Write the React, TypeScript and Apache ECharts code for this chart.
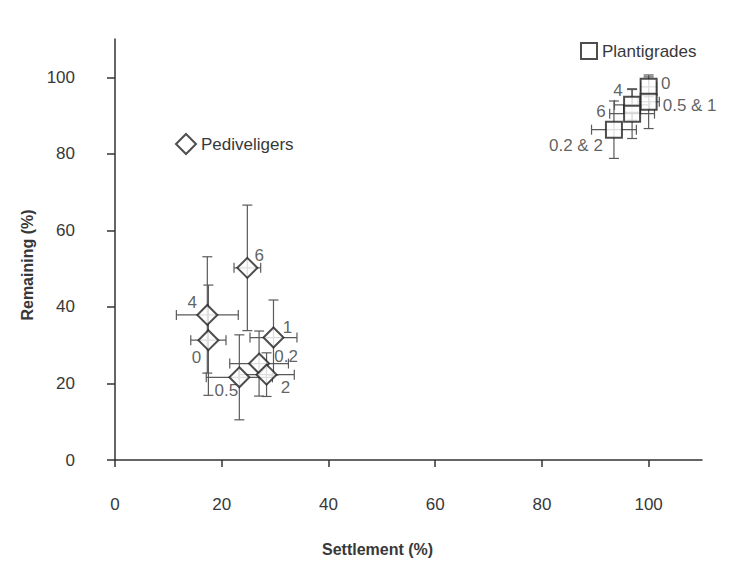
import React, { useEffect, useRef } from "react";
import * as echarts from "echarts";

// Pediveligers: settlement vs remaining, with ± error on both axes
const pediLabels = ["0", "0.2", "0.5", "1", "2", "4", "6"];
const pediX = [17.5, 27.0, 23.3, 29.7, 28.4, 17.3, 24.8];
const pediY = [31.3, 25.2, 21.6, 32.0, 22.3, 37.9, 50.2];
const pediXErr = [3.3, 5.5, 6.2, 4.4, 5.2, 5.8, 2.5];
const pediYErr = [14.4, 8.5, 11.1, 9.8, 5.7, 15.2, 16.4];

// Plantigrades
const plantLabels = ["0", "0.5 & 1", "4", "6", "0.2 & 2"];
const plantX = [100.0, 100.0, 96.9, 96.9, 93.5];
const plantY = [97.5, 93.6, 92.8, 90.5, 86.3];
const plantXErr = [1.5, 2.0, 3.3, 4.2, 4.2];
const plantYErr = [2.6, 7.0, 4.0, 6.5, 7.5];

const xTicks = [0, 20, 40, 60, 80, 100];
const yTicks = [0, 20, 40, 60, 80, 100];

// label offsets (px) from each marker centre
const pediLabelOffsets: [number, number][] = [
  [-12, 17], [27, -7], [-13, 13], [14, -10], [19, 13], [-15, -12], [12, -12],
];
const plantLabelOffsets: [number, number][] = [
  [17, -3], [41, 4], [-14, -14], [-31, -2], [-38, 16],
];

const FONT = "'Liberation Sans', Arial, sans-serif";
const TEXT = "#383838";
const ERR = "#5a5a5a";

function errorRows(xs: number[], ys: number[], ex: number[], ey: number[]) {
  return xs.map((x, i) => [x, ys[i], ex[i], ey[i]]);
}

function renderErrorBars(params: any, api: any) {
  const x = api.value(0);
  const y = api.value(1);
  const ex = api.value(2);
  const ey = api.value(3);
  const l = api.coord([x - ex, y]);
  const r = api.coord([x + ex, y]);
  const t = api.coord([x, y + ey]);
  const b = api.coord([x, y - ey]);
  const cap = 5;
  const style = { stroke: ERR, lineWidth: 1.2 };
  const line = (x1: number, y1: number, x2: number, y2: number) => ({
    type: "line",
    shape: { x1, y1, x2, y2 },
    style,
  });
  return {
    type: "group",
    children: [
      line(l[0], l[1], r[0], r[1]),
      line(l[0], l[1] - cap, l[0], l[1] + cap),
      line(r[0], r[1] - cap, r[0], r[1] + cap),
      line(t[0], t[1], b[0], b[1]),
      line(t[0] - cap, t[1], t[0] + cap, t[1]),
      line(b[0] - cap, b[1], b[0] + cap, b[1]),
    ],
  };
}

function pointData(xs: number[], ys: number[], names: string[], offs: [number, number][]) {
  return xs.map((x, i) => ({
    value: [x, ys[i]],
    name: names[i],
    label: { offset: offs[i], color: TEXT },
  }));
}

export default function App() {
  const ref = useRef<HTMLDivElement>(null);

  useEffect(() => {
    if (!ref.current) return;
    const chart = echarts.init(ref.current, undefined, { renderer: "svg" });

    const pointLabel = {
      show: true,
      position: "inside",
      formatter: (p: any) => p.name,
      color: TEXT,
      textBorderWidth: 0,
      fontSize: 17,
      fontFamily: FONT,
      align: "center",
      verticalAlign: "middle",
    };

    const axisCommon = {
      min: 0,
      max: 110,
      interval: 20,
      splitLine: { show: false },
      axisLine: { show: true, onZero: false, lineStyle: { color: "#333", width: 1.5 } },
    };

    const legendCommon = {
      itemGap: 0,
      padding: 0,
      textStyle: { color: TEXT, fontSize: 17, fontFamily: FONT },
    };

    chart.setOption({
      animation: false,
      backgroundColor: "#fff",
      textStyle: { fontFamily: FONT },
      grid: { left: 115, right: 28, top: 39, bottom: 109 },
      xAxis: {
        type: "value",
        ...axisCommon,
        axisTick: {
          show: true,
          customValues: xTicks,
          length: 7,
          inside: false,
          lineStyle: { color: "#333", width: 1.5 },
        },
        axisLabel: {
          customValues: xTicks,
          margin: 36,
          color: TEXT,
          fontSize: 17,
          fontFamily: FONT,
        },
      },
      yAxis: {
        type: "value",
        ...axisCommon,
        axisTick: {
          show: true,
          customValues: yTicks,
          length: 8,
          inside: false,
          lineStyle: { color: "#333", width: 1.5 },
        },
        axisLabel: {
          customValues: yTicks,
          margin: 40,
          color: TEXT,
          fontSize: 17,
          fontFamily: FONT,
        },
      },
      legend: [
        {
          ...legendCommon,
          data: ["Pediveligers"],
          left: 175,
          top: 133,
          itemWidth: 20,
          itemHeight: 20,
        },
        {
          ...legendCommon,
          data: ["Plantigrades"],
          left: 580,
          top: 42,
          itemWidth: 16,
          itemHeight: 16,
        },
      ],
      graphic: [
        {
          type: "text",
          left: 322,
          top: 541,
          style: {
            text: "Settlement (%)",
            font: `bold 16px ${FONT}`,
            fill: TEXT,
          },
        },
        {
          type: "text",
          x: 27,
          y: 265,
          rotation: Math.PI / 2,
          style: {
            text: "Remaining (%)",
            font: `bold 16px ${FONT}`,
            fill: TEXT,
            align: "center",
            verticalAlign: "middle",
          },
        },
      ],
      series: [
        {
          type: "custom",
          name: "pediErr",
          renderItem: renderErrorBars,
          encode: { x: 0, y: 1 },
          data: errorRows(pediX, pediY, pediXErr, pediYErr),
          z: 1,
          silent: true,
        },
        {
          type: "custom",
          name: "plantErr",
          renderItem: renderErrorBars,
          encode: { x: 0, y: 1 },
          data: errorRows(plantX, plantY, plantXErr, plantYErr),
          z: 1,
          silent: true,
        },
        {
          type: "scatter",
          name: "Pediveligers",
          symbol: "diamond",
          symbolSize: 20,
          itemStyle: { color: "#fff", borderColor: "#222", borderWidth: 2 },
          label: pointLabel,
          data: pointData(pediX, pediY, pediLabels, pediLabelOffsets),
          z: 3,
        },
        {
          type: "scatter",
          name: "Plantigrades",
          symbol: "rect",
          symbolSize: 16,
          itemStyle: { color: "#fff", borderColor: "#222", borderWidth: 2 },
          label: pointLabel,
          data: pointData(plantX, plantY, plantLabels, plantLabelOffsets),
          z: 3,
        },
      ],
    });

    return () => chart.dispose();
  }, []);

  return (
    <div
      ref={ref}
      style={{ position: "fixed", left: 0, top: 0, width: 730, height: 569, background: "#fff" }}
    />
  );
}
